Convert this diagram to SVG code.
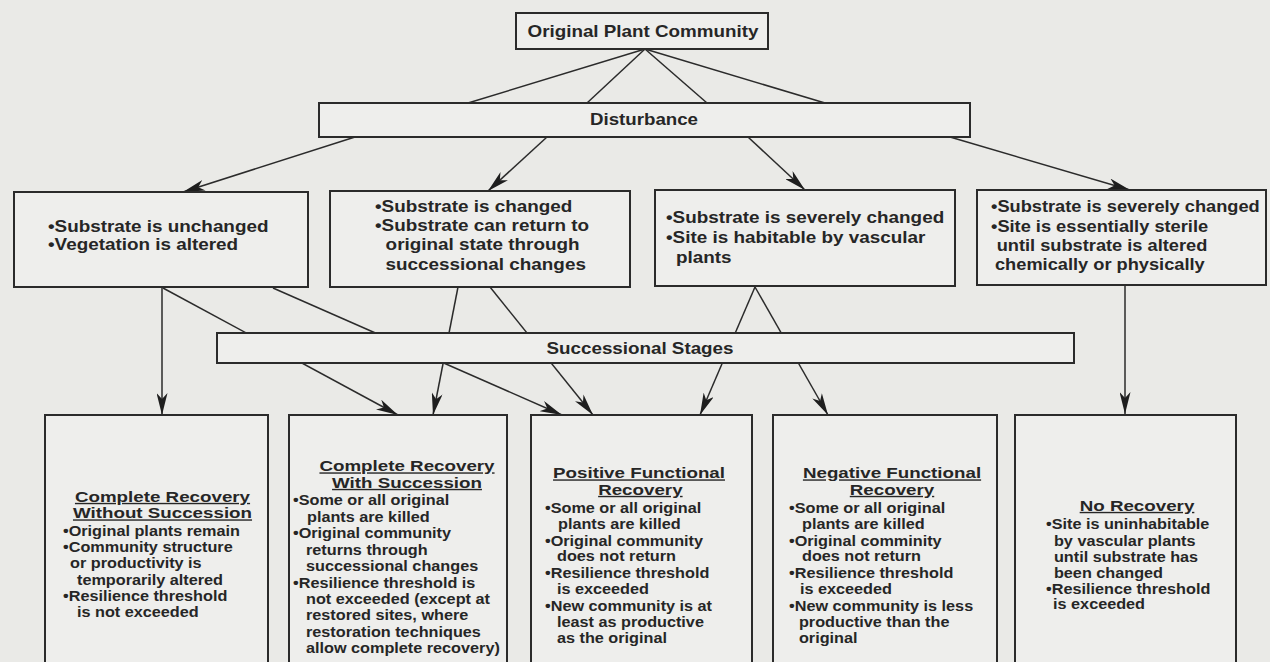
<svg xmlns="http://www.w3.org/2000/svg" width="1270" height="662" viewBox="0 0 1270 662">
<defs>
<style>
.bg{fill:#eaeae7}
.box{fill:#eeeeec;stroke:#2b2b2b;stroke-width:2}
.ln{fill:none;stroke:#2b2b2b;stroke-width:1.5}
.t{font-family:"Liberation Sans",Arial,sans-serif;font-weight:bold;fill:#262626}
.r2{font-size:16px}
.b{font-size:14.5px}
.h{font-size:14px;text-decoration:underline;text-anchor:middle}
.c{text-anchor:middle}
</style>
<marker id="ah" markerUnits="userSpaceOnUse" markerWidth="22" markerHeight="11" refX="22" refY="5.5" orient="auto">
<path d="M0,0 L22,5.5 L0,11 L6,5.5 z" fill="#1e1e1e"/>
</marker>
</defs>
<rect class="bg" x="0" y="0" width="1270" height="662"/>

<g id="connectors">
<line class="ln" x1="645" y1="49" x2="468" y2="103"/>
<line class="ln" x1="645" y1="49" x2="587" y2="103"/>
<line class="ln" x1="645" y1="49" x2="707" y2="103"/>
<line class="ln" x1="645" y1="49" x2="825" y2="103"/>
<line class="ln" x1="355" y1="137" x2="183" y2="192" marker-end="url(#ah)"/>
<line class="ln" x1="547" y1="137" x2="488" y2="191" marker-end="url(#ah)"/>
<line class="ln" x1="748" y1="137" x2="805" y2="190" marker-end="url(#ah)"/>
<line class="ln" x1="950" y1="137" x2="1130" y2="190" marker-end="url(#ah)"/>
<line class="ln" x1="162" y1="287" x2="162" y2="415" marker-end="url(#ah)"/>
<line class="ln" x1="163" y1="288" x2="398" y2="415" marker-end="url(#ah)"/>
<line class="ln" x1="273" y1="288" x2="562" y2="415" marker-end="url(#ah)"/>
<line class="ln" x1="458" y1="287" x2="433" y2="415" marker-end="url(#ah)"/>
<line class="ln" x1="490" y1="287" x2="593" y2="415" marker-end="url(#ah)"/>
<line class="ln" x1="755" y1="287" x2="700" y2="415" marker-end="url(#ah)"/>
<line class="ln" x1="755" y1="287" x2="828" y2="415" marker-end="url(#ah)"/>
<line class="ln" x1="1125" y1="285" x2="1125" y2="414" marker-end="url(#ah)"/>
</g>

<g id="original">
<rect class="box" x="516" y="13" width="252" height="36"/>
<text class="t c" x="643" y="37" font-size="17" textLength="231" lengthAdjust="spacingAndGlyphs">Original Plant Community</text>
</g>

<g id="disturbance">
<rect class="box" x="319" y="103" width="651" height="34"/>
<text class="t c" x="644" y="125" font-size="16" textLength="108" lengthAdjust="spacingAndGlyphs">Disturbance</text>
</g>

<g id="successional">
<rect class="box" x="217" y="333" width="857" height="30"/>
<text class="t c" x="640" y="354" font-size="16" textLength="187" lengthAdjust="spacingAndGlyphs">Successional Stages</text>
</g>

<g id="stateA">
<rect class="box" x="14" y="192" width="294" height="95"/>
<g transform="translate(48,0) scale(1.18,1)">
<text class="t r2" x="0" y="232">•Substrate is unchanged</text>
<text class="t r2" x="0" y="250">•Vegetation is altered</text>
</g>
</g>

<g id="stateB">
<rect class="box" x="330" y="191" width="300" height="96"/>
<g transform="translate(375,0) scale(1.18,1)">
<text class="t r2" x="0" y="212">•Substrate is changed</text>
<text class="t r2" x="0" y="231">•Substrate can return to</text>
<text class="t r2" x="9" y="250">original state through</text>
<text class="t r2" x="9" y="270">successional changes</text>
</g>
</g>

<g id="stateC">
<rect class="box" x="655" y="190" width="300" height="96"/>
<g transform="translate(666,0) scale(1.18,1)">
<text class="t r2" x="0" y="223">•Substrate is severely changed</text>
<text class="t r2" x="0" y="243">•Site is habitable by vascular</text>
<text class="t r2" x="8.5" y="263">plants</text>
</g>
</g>

<g id="stateD">
<rect class="box" x="977" y="190" width="289" height="95"/>
<g transform="translate(991,0) scale(1.14,1)">
<text class="t r2" x="0" y="212">•Substrate is severely changed</text>
<text class="t r2" x="0" y="232">•Site is essentially sterile</text>
<text class="t r2" x="5" y="251">until substrate is altered</text>
<text class="t r2" x="3.5" y="270">chemically or physically</text>
</g>
</g>

<g id="out1">
<rect class="box" x="45" y="415" width="223" height="260"/>
<g transform="translate(162.5,0) scale(1.34,1)">
<text class="t h" x="0" y="502">Complete Recovery</text>
<text class="t h" x="0" y="518.5">Without Succession</text>
</g>
<g transform="translate(63,0) scale(1.12,1)">
<text class="t b" x="0" y="536">•Original plants remain</text>
<text class="t b" x="0" y="552">•Community structure</text>
<text class="t b" x="6.3" y="568">or productivity is</text>
<text class="t b" x="12.5" y="585">temporarily altered</text>
<text class="t b" x="0" y="601">•Resilience threshold</text>
<text class="t b" x="12.5" y="617">is not exceeded</text>
</g>
</g>

<g id="out2">
<rect class="box" x="289" y="415" width="218" height="260"/>
<g transform="translate(407,0) scale(1.34,1)">
<text class="t h" x="0" y="471.5">Complete Recovery</text>
<text class="t h" x="0" y="488">With Succession</text>
</g>
<g transform="translate(293,0) scale(1.12,1)">
<text class="t b" x="0" y="505">•Some or all original</text>
<text class="t b" x="12.5" y="522">plants are killed</text>
<text class="t b" x="0" y="538">•Original community</text>
<text class="t b" x="11.6" y="555">returns through</text>
<text class="t b" x="11.6" y="571">successional changes</text>
<text class="t b" x="0" y="588">•Resilience threshold is</text>
<text class="t b" x="11.6" y="604">not exceeded (except at</text>
<text class="t b" x="11.6" y="620">restored sites, where</text>
<text class="t b" x="11.6" y="637">restoration techniques</text>
<text class="t b" x="11.6" y="653">allow complete recovery)</text>
</g>
</g>

<g id="out3">
<rect class="box" x="531" y="415" width="221" height="260"/>
<g transform="translate(639,0) scale(1.34,1)">
<text class="t h" x="0" y="478.5">Positive Functional</text>
<text class="t h" x="1" y="495">Recovery</text>
</g>
<g transform="translate(545,0) scale(1.12,1)">
<text class="t b" x="0" y="513">•Some or all original</text>
<text class="t b" x="11.6" y="529">plants are killed</text>
<text class="t b" x="0" y="546">•Original community</text>
<text class="t b" x="10.7" y="561">does not return</text>
<text class="t b" x="0" y="578">•Resilience threshold</text>
<text class="t b" x="10.7" y="594">is exceeded</text>
<text class="t b" x="0" y="611">•New community is at</text>
<text class="t b" x="10.7" y="627">least as productive</text>
<text class="t b" x="10.7" y="643">as the original</text>
</g>
</g>

<g id="out4">
<rect class="box" x="773" y="415" width="224" height="260"/>
<g transform="translate(892,0) scale(1.34,1)">
<text class="t h" x="0" y="478.5">Negative Functional</text>
<text class="t h" x="0" y="495">Recovery</text>
</g>
<g transform="translate(789,0) scale(1.12,1)">
<text class="t b" x="0" y="513">•Some or all original</text>
<text class="t b" x="11.6" y="529">plants are killed</text>
<text class="t b" x="0" y="546">•Original comminity</text>
<text class="t b" x="11.6" y="561">does not return</text>
<text class="t b" x="0" y="578">•Resilience threshold</text>
<text class="t b" x="9.8" y="594">is exceeded</text>
<text class="t b" x="0" y="611">•New community is less</text>
<text class="t b" x="8.9" y="627">productive than the</text>
<text class="t b" x="8.9" y="643">original</text>
</g>
</g>

<g id="out5">
<rect class="box" x="1015" y="415" width="221" height="260"/>
<g transform="translate(1137,0) scale(1.34,1)">
<text class="t h" x="0" y="511">No Recovery</text>
</g>
<g transform="translate(1046,0) scale(1.12,1)">
<text class="t b" x="0" y="529">•Site is uninhabitable</text>
<text class="t b" x="7.1" y="546">by vascular plants</text>
<text class="t b" x="7.1" y="562">until substrate has</text>
<text class="t b" x="7.1" y="578">been changed</text>
<text class="t b" x="0" y="594">•Resilience threshold</text>
<text class="t b" x="6.3" y="609">is exceeded</text>
</g>
</g>
</svg>
